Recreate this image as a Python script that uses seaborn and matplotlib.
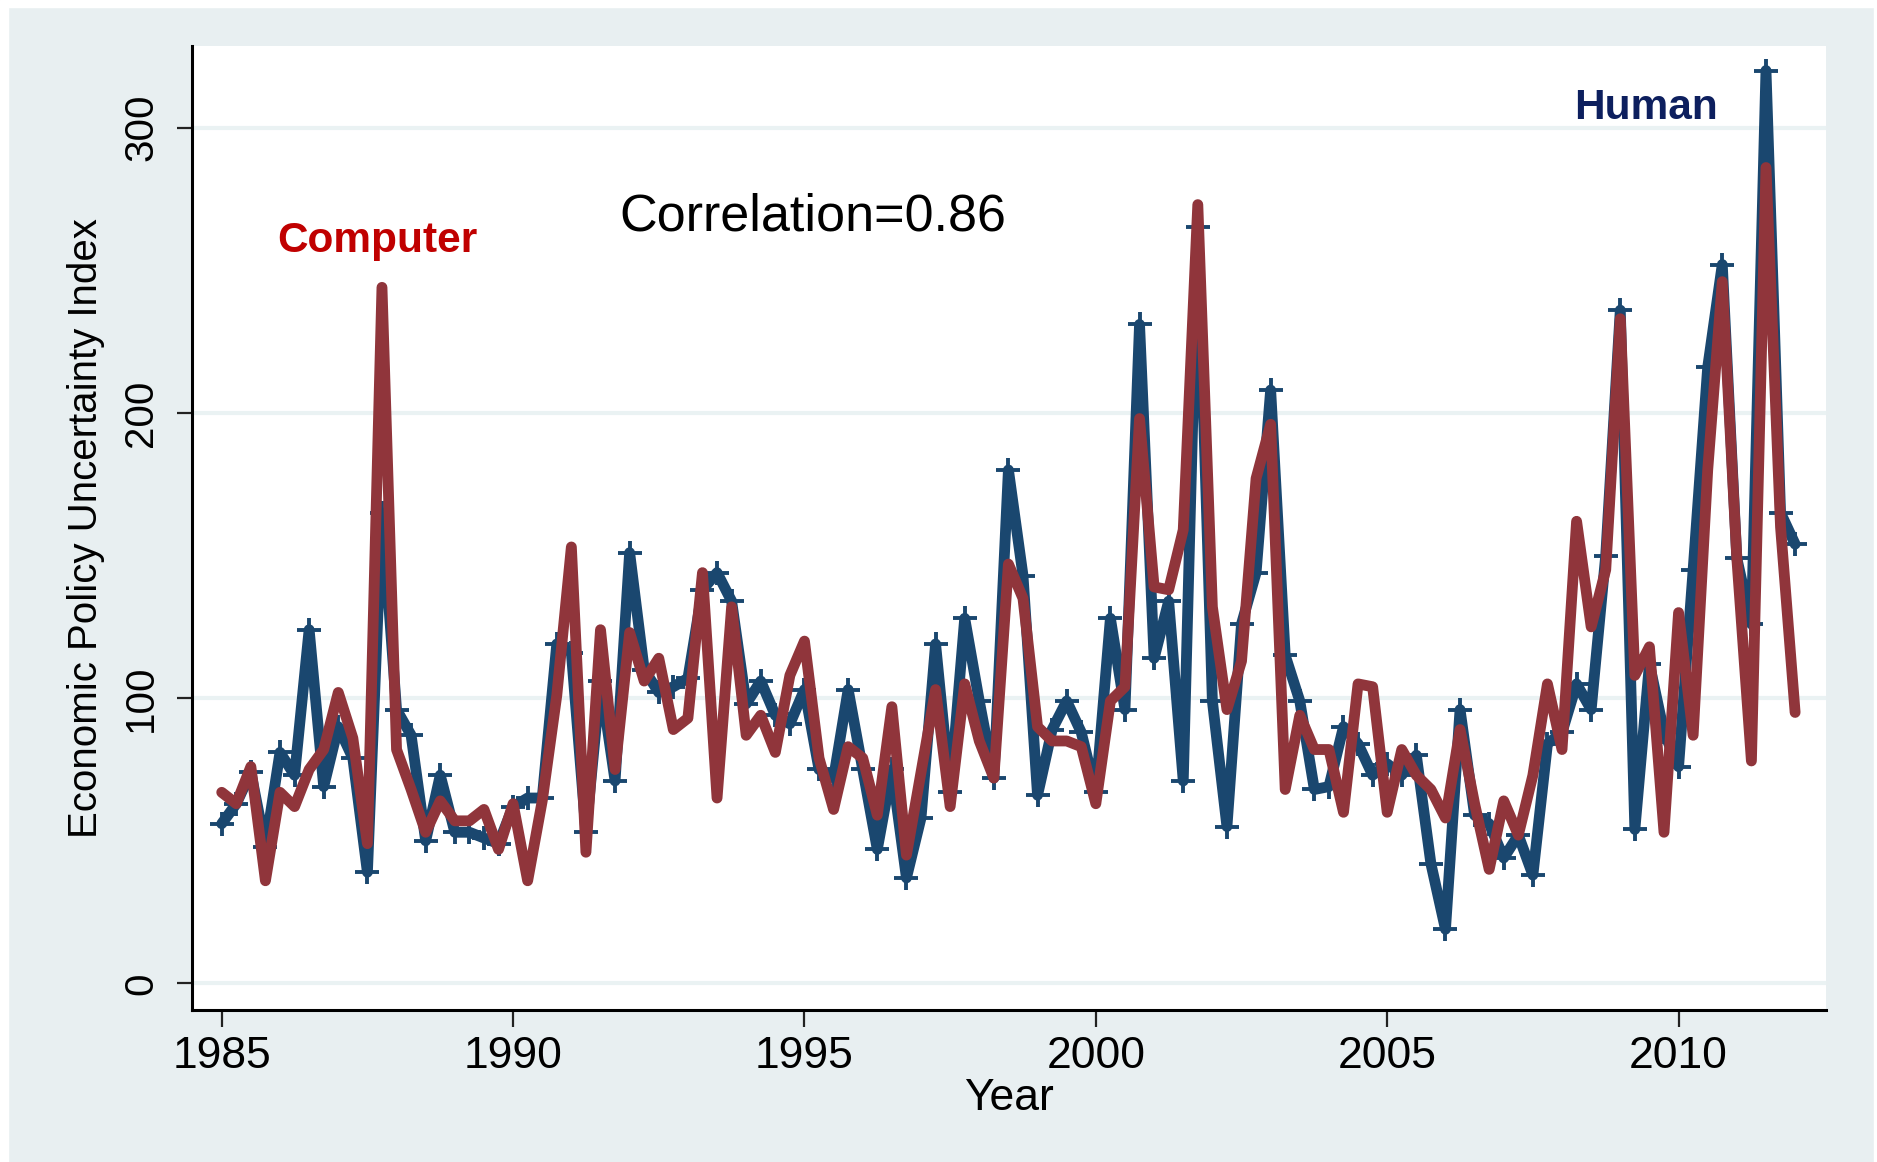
import numpy as np
import pandas as pd
import matplotlib
matplotlib.use("Agg")
import matplotlib.pyplot as plt
from matplotlib.patches import Rectangle
import seaborn as sns

# Quarterly series, 1985Q1 .. 2012Q1
start_year = 1985
n_quarters = 109
human = [56, 63, 74, 48, 81, 73, 124, 69, 90, 79, 39, 165, 96, 87, 50, 73,
         53, 53, 51, 49, 62, 65, 65, 119, 116, 53, 106, 71, 151, 110, 102, 104,
         107, 138, 144, 134, 98, 106, 94, 91, 103, 75, 72, 103, 75, 47, 75, 37,
         58, 119, 67, 128, 99, 72, 180, 143, 66, 89, 99, 88, 67, 128, 96, 231,
         114, 134, 71, 265, 99, 55, 126, 144, 208, 115, 99, 68, 69, 90, 84, 73,
         77, 73, 80, 42, 19, 96, 59, 56, 44, 52, 38, 84, 88, 105, 96, 150,
         236, 54, 112, 88, 76, 145, 216, 252, 149, 126, 320, 165, 154]
computer = [67, 63, 76, 36, 67, 62, 75, 82, 102, 86, 49, 244, 82, 68, 53, 64,
            57, 57, 61, 47, 63, 36, 64, 101, 153, 46, 124, 75, 123, 106, 114, 89,
            93, 144, 65, 132, 87, 94, 81, 108, 120, 79, 61, 83, 79, 59, 97, 45,
            74, 103, 62, 105, 85, 72, 147, 135, 90, 85, 85, 83, 63, 99, 104, 198,
            139, 138, 159, 273, 132, 96, 113, 177, 196, 68, 94, 82, 82, 60, 105, 104,
            60, 82, 73, 68, 58, 89, 63, 40, 64, 52, 73, 105, 82, 162, 125, 145,
            233, 108, 118, 53, 130, 87, 180, 246, 149, 78, 286, 160, 95]
x_ticks = [1985, 1990, 1995, 2000, 2005, 2010]
y_ticks = [0, 100, 200, 300]

years = start_year + np.arange(n_quarters) / 4.0
df = pd.DataFrame({"Year": years, "Human": human, "Computer": computer})

sns.set_theme(style="white")
plt.rcParams["font.family"] = ["Liberation Sans", "DejaVu Sans"]

W, H = 1877, 1162
fig = plt.figure(figsize=(W / 100, H / 100), dpi=100)
fig.patch.set_facecolor("#e8eff1")
# thin white outer border (left / top / right)
fig.patches.append(Rectangle((0, 0), 8 / W, 1, transform=fig.transFigure,
                             color="white", zorder=0))
fig.patches.append(Rectangle((0, 1 - 7 / H), 1, 7 / H, transform=fig.transFigure,
                             color="white", zorder=0))
fig.patches.append(Rectangle((1 - 3 / W, 0), 3 / W, 1, transform=fig.transFigure,
                             color="white", zorder=0))

ax = fig.add_axes([192 / W, 1 - 1010 / H, (1826 - 192) / W, (1010 - 46) / H])
ax.set_facecolor("white")

blue = "#1a476f"
red = "#90353b"

sns.lineplot(data=df, x="Year", y="Human", ax=ax, color=blue, linewidth=7.8,
             marker="+", markersize=17, markeredgewidth=2.8,
             markeredgecolor=blue, zorder=3)
sns.lineplot(data=df, x="Year", y="Computer", ax=ax, color=red, linewidth=7.8,
             zorder=4)

ax.set_xlim(1984.49, 2012.53)
ax.set_ylim(-9.3, 328.6)
ax.set_xticks(x_ticks)
ax.set_yticks(y_ticks)
ax.set_xticklabels([str(v) for v in x_ticks])
ax.set_yticklabels([str(v) for v in y_ticks])

ax.yaxis.grid(True, color="#eaf2f3", linewidth=3)
ax.xaxis.grid(False)
ax.set_axisbelow(True)

for s in ["top", "right"]:
    ax.spines[s].set_visible(False)
for s in ["left", "bottom"]:
    ax.spines[s].set_visible(True)
    ax.spines[s].set_color("black")
    ax.spines[s].set_linewidth(2.2)

ax.tick_params(axis="x", which="major", direction="out", length=12, width=1.6,
               color="#222222", pad=7, labelsize=32, labelcolor="black",
               bottom=True)
ax.tick_params(axis="y", which="major", direction="out", length=11, width=1.6,
               color="#222222", pad=12, labelsize=29, labelcolor="black",
               left=True)
plt.setp(ax.get_yticklabels(), rotation=90, va="center")

ax.set_xlabel("Year", fontsize=32, color="black")
ax.xaxis.set_label_coords(0.5, -0.092)
ax.xaxis.label.set_va("center")
ax.set_ylabel("Economic Policy Uncertainty Index", fontsize=29, color="black",
              va="center")
ax.yaxis.set_label_coords(-0.0649, 0.5)

ax.text(1987.67, 260.2, "Computer", color="#c00000", fontsize=30.5,
        fontweight="bold", ha="center", va="center", zorder=6)
ax.text(2009.44, 306.8, "Human", color="#0d1f5e", fontsize=30.5,
        fontweight="bold", ha="center", va="center", zorder=6)
ax.text(1995.15, 268.6, "Correlation=0.86", color="black", fontsize=37.5,
        ha="center", va="center", zorder=6)

fig.savefig("out.png", dpi=100, facecolor=fig.get_facecolor())
